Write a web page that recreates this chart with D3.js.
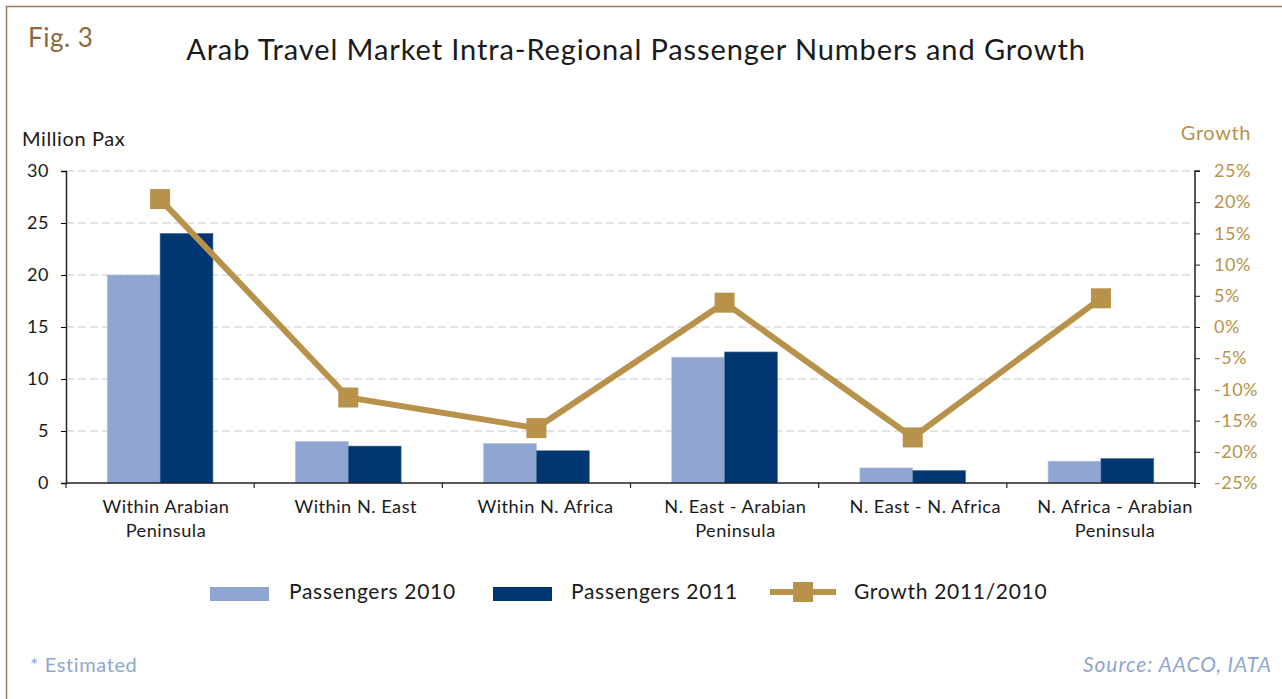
<!DOCTYPE html>
<html><head><meta charset="utf-8">
<script src="https://cdn.jsdelivr.net/npm/d3@7"></script>
<style>
body{margin:0;background:#fff;}
svg{display:block;font-family:"Lato","Open Sans",sans-serif;}
</style></head><body>
<svg id="c" width="1282" height="699"></svg>
<script>
const categories = [["Within Arabian","Peninsula"],["Within N. East"],["Within N. Africa"],["N. East - Arabian","Peninsula"],["N. East - N. Africa"],["N. Africa - Arabian","Peninsula"]];
const pax2010 = [20.0, 4.0, 3.8, 12.1, 1.45, 2.1];
const pax2011 = [24.0, 3.55, 3.1, 12.6, 1.2, 2.35];
const growth = [20.5, -11.3, -16.2, 3.9, -17.7, 4.6];
const leftTicks = [0,5,10,15,20,25,30];
const rightTicks = [-25,-20,-15,-10,-5,0,5,10,15,20,25];

const svg = d3.select("#c");
const C = {light:"#8FA6D3", dark:"#003671", gold:"#B8924A", brown:"#8B6A3E", grid:"#C5C8D6", text:"#1a1a1a"};
const L = 66, R = 1195, T = 171, B = 483;

svg.append("rect").attr("x",6.5).attr("y",6.5).attr("width",1290).attr("height",700)
  .attr("fill","none").attr("stroke","#9C7C50").attr("stroke-width",1.5);

svg.append("text").attr("x",28).attr("y",47).attr("font-size",26).attr("letter-spacing",0.5).attr("fill",C.brown).text("Fig. 3");
svg.append("text").attr("x",636).attr("y",60).attr("text-anchor","middle").attr("font-size",29).attr("letter-spacing",0.9).attr("fill",C.text)
  .text("Arab Travel Market Intra-Regional Passenger Numbers and Growth");
svg.append("text").attr("x",22).attr("y",146).attr("font-size",20).attr("letter-spacing",0.6).attr("fill",C.text).text("Million Pax");
svg.append("text").attr("x",1251).attr("y",140).attr("text-anchor","end").attr("font-size",20).attr("letter-spacing",0.6).attr("fill",C.gold).text("Growth");

const x = d3.scaleBand().domain(d3.range(categories.length)).range([L,R]).paddingInner(0).paddingOuter(0);
const xl = d3.scaleBand().domain(d3.range(categories.length)).range([L+5,R+15]);
const xi = d3.scaleBand().domain([0,1]).range([0,x.bandwidth()]).paddingOuter(0.78).paddingInner(0);
const y = d3.scaleLinear().domain([0,30]).range([B,T]);
const y2 = d3.scaleLinear().domain([-25,25]).range([B,T]);

// gridlines
svg.append("g").selectAll("line").data(leftTicks.filter(d=>d>0)).join("line")
  .attr("x1",L).attr("x2",R).attr("y1",d=>y(d)).attr("y2",d=>y(d))
  .attr("stroke",C.grid).attr("stroke-width",1).attr("stroke-dasharray","8,4");

// bars
const g = svg.append("g");
categories.forEach((c,i)=>{
  g.append("rect").attr("x",x(i)+xi(0)).attr("width",xi.bandwidth()).attr("y",y(pax2010[i])).attr("height",B-y(pax2010[i]))
    .attr("fill",C.light).attr("stroke","#B7C5E2").attr("stroke-width",0.6);
  g.append("rect").attr("x",x(i)+xi(1)).attr("width",xi.bandwidth()).attr("y",y(pax2011[i])).attr("height",B-y(pax2011[i]))
    .attr("fill",C.dark).attr("stroke","#4d6f9a").attr("stroke-width",0.6);
});

// axes
const yAxis = svg.append("g").attr("transform",`translate(${L},0)`)
  .call(d3.axisLeft(y).tickValues(leftTicks).tickSize(5).tickPadding(12).tickFormat(d3.format("d")));
yAxis.select(".domain").attr("stroke","#222").attr("stroke-width",1.5);
yAxis.selectAll("text").attr("font-size",18).attr("letter-spacing",0.5).attr("fill",C.text).style("font-family","Lato,sans-serif");
const yAxis2 = svg.append("g").attr("transform",`translate(${R},0)`)
  .call(d3.axisRight(y2).tickValues(rightTicks).tickSize(5).tickPadding(14).tickFormat(d=>d+"%"));
yAxis2.select(".domain").attr("stroke","#222").attr("stroke-width",1.5).attr("d",`M5,${T}H0V${B+5}`);
yAxis2.selectAll("text").attr("font-size",18).attr("letter-spacing",0.5).attr("fill",C.gold).style("font-family","Lato,sans-serif");
yAxis2.selectAll(".tick line").attr("stroke","#222");

svg.append("line").attr("x1",L).attr("x2",R).attr("y1",B).attr("y2",B).attr("stroke","#222").attr("stroke-width",1.5);
svg.append("g").selectAll("line").data(d3.range(categories.length)).join("line")
  .attr("x1",d=>x(d)).attr("x2",d=>x(d)).attr("y1",B).attr("y2",B+5).attr("stroke","#222").attr("stroke-width",1.2);

// category labels
categories.forEach((c,i)=>{
  const cx = xl(i)+xl.bandwidth()/2;
  const t = svg.append("text").attr("x",cx).attr("y",513).attr("text-anchor","middle")
    .attr("font-size",18.2).attr("letter-spacing",0.5).attr("fill",C.text);
  c.forEach((ln,j)=>t.append("tspan").attr("x",cx).attr("dy",j?24:0).text(ln));
});

// growth line
const line = d3.line().x((d,i)=>x(i)+x.bandwidth()/2).y(d=>y2(d));
svg.append("path").datum(growth).attr("d",line).attr("fill","none").attr("stroke",C.gold).attr("stroke-width",6);
svg.append("g").selectAll("rect").data(growth).join("rect")
  .attr("x",(d,i)=>x(i)+x.bandwidth()/2-10).attr("y",d=>y2(d)-10).attr("width",20).attr("height",20).attr("fill",C.gold);

// legend
const lg = svg.append("g");
lg.append("rect").attr("x",210).attr("y",587).attr("width",59).attr("height",14).attr("fill",C.light);
lg.append("text").attr("x",289).attr("y",599).attr("font-size",21).attr("letter-spacing",0.7).attr("fill",C.text).text("Passengers 2010");
lg.append("rect").attr("x",493).attr("y",587).attr("width",59).attr("height",14).attr("fill",C.dark);
lg.append("text").attr("x",571).attr("y",599).attr("font-size",21).attr("letter-spacing",0.7).attr("fill",C.text).text("Passengers 2011");
lg.append("line").attr("x1",770).attr("x2",836).attr("y1",592).attr("y2",592).attr("stroke",C.gold).attr("stroke-width",6);
lg.append("rect").attr("x",793).attr("y",582).attr("width",20).attr("height",20).attr("fill",C.gold);
lg.append("text").attr("x",854).attr("y",599).attr("font-size",21).attr("letter-spacing",0.7).attr("fill",C.text).text("Growth 2011/2010");

// footer
svg.append("text").attr("x",30).attr("y",672).attr("font-size",20).attr("letter-spacing",0.6).attr("fill",C.light).text("* Estimated");
svg.append("text").attr("x",1272).attr("y",672).attr("text-anchor","end").attr("font-size",21).attr("letter-spacing",0.9).attr("font-style","italic")
  .attr("fill",C.light).text("Source: AACO, IATA");
</script></body></html>
